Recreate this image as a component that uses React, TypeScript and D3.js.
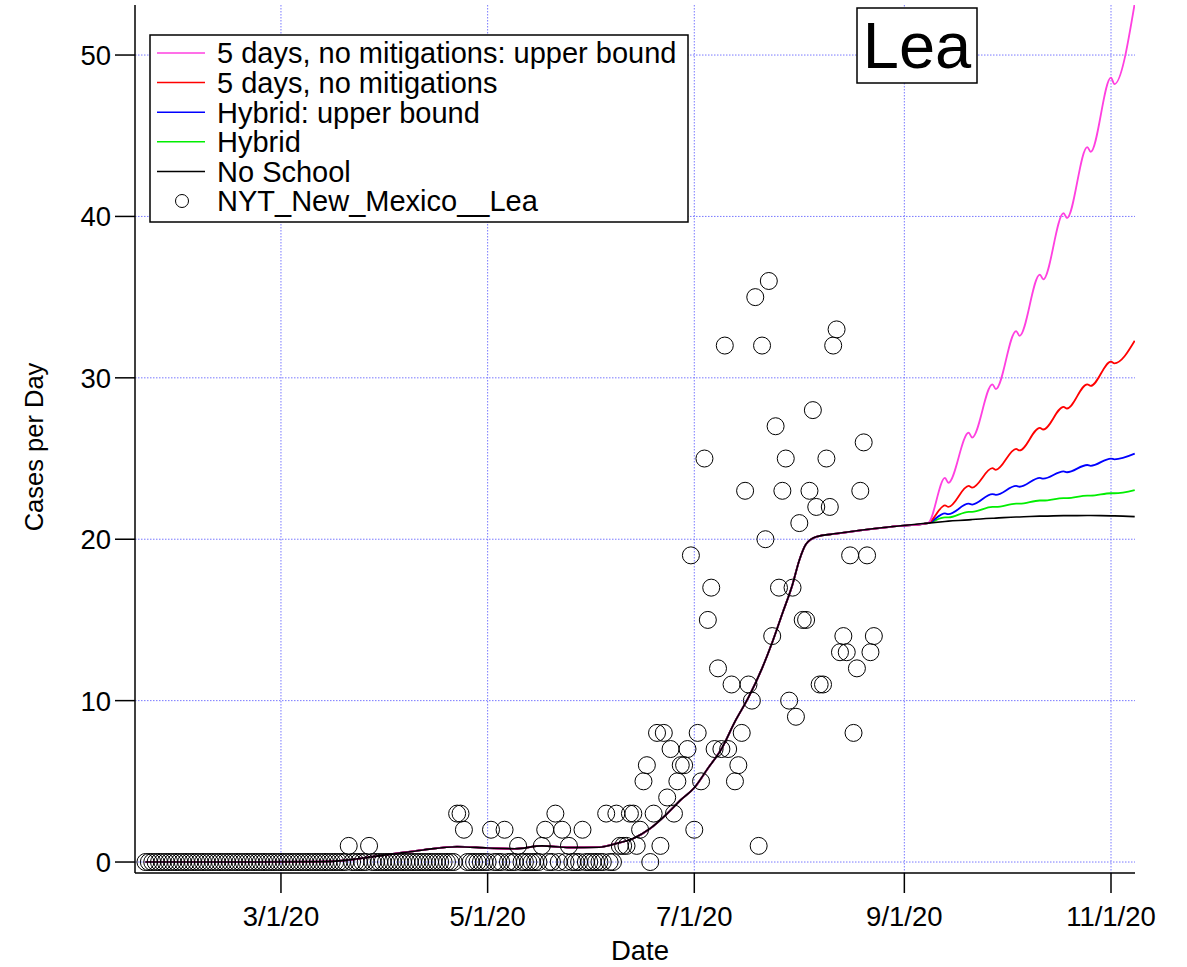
import React, { useEffect, useRef } from 'react';
import * as d3 from 'd3';

// Daily NYT case counts for Lea county, one array per month (first day given in caseMonths)
const caseMonths = ['2020-01-21', '2020-02-01', '2020-03-01', '2020-04-01', '2020-05-01', '2020-06-01', '2020-07-01', '2020-08-01'];
const janCases = [0, 0, 0, 0, 0, 0, 0, 0, 0, 0, 0];
const febCases = [0, 0, 0, 0, 0, 0, 0, 0, 0, 0, 0, 0, 0, 0, 0, 0, 0, 0, 0, 0, 0, 0, 0, 0, 0, 0, 0, 0, 0];
const marCases = [0, 0, 0, 0, 0, 0, 0, 0, 0, 0, 0, 0, 0, 0, 0, 0, 0, 0, 0, 0, 1, 0, 0, 0, 0, 0, 1, 0, 0, 0, 0];
const aprCases = [0, 0, 0, 0, 0, 0, 0, 0, 0, 0, 0, 0, 0, 0, 0, 0, 0, 0, 0, 0, 0, 3, 3, 2, 0, 0, 0, 0, 0, 0];
const mayCases = [0, 2, 0, 0, 0, 2, 0, 0, 0, 1, 0, 0, 0, 0, 0, 0, 1, 2, 0, 0, 3, 0, 2, 0, 1, 0, 0, 0, 2, 0, 0];
const junCases = [0, 0, 0, 0, 3, 0, 0, 3, 1, 1, 1, 3, 3, 1, 2, 5, 6, 0, 3, 8, 1, 8, 4, 7, 3, 5, 6, 6, 7, 19];
const julCases = [2, 8, 5, 25, 15, 17, 7, 12, 7, 32, 7, 11, 5, 6, 8, 23, 11, 10, 35, 1, 32, 20, 36, 14, 27, 17, 23, 25, 10, 17, 9];
const augCases = [21, 15, 15, 23, 28, 22, 11, 11, 25, 22, 32, 33, 13, 14, 13, 19, 8, 12, 23, 26, 19, 13, 14];

// Model fit shared by every scenario up to school start
const baseDates = ['2020-01-21', '2020-02-20', '2020-03-12', '2020-03-20', '2020-03-27', '2020-04-03', '2020-04-12',
  '2020-04-22', '2020-05-01', '2020-05-09', '2020-05-17', '2020-05-25', '2020-06-03', '2020-06-08', '2020-06-13',
  '2020-06-18', '2020-06-23', '2020-06-27', '2020-07-01', '2020-07-05', '2020-07-09', '2020-07-13', '2020-07-17',
  '2020-07-21', '2020-07-24', '2020-07-27', '2020-07-30', '2020-08-01', '2020-08-03', '2020-08-06', '2020-08-12',
  '2020-08-28', '2020-09-08'];
const baseValues = [0, 0, 0.02, 0.1, 0.3, 0.5, 0.75, 0.95, 0.87, 0.82, 1.0, 0.9, 0.92, 1.15, 1.46, 2.08, 3.0, 3.85,
  4.6, 5.8, 7.0, 8.7, 10.2, 12.0, 13.6, 15.4, 17.2, 18.7, 19.7, 20.15, 20.35, 20.77, 21.0];

// Projections after school start
const projDates = ['2020-09-13', '2020-09-14', '2020-09-20', '2020-09-21', '2020-09-27', '2020-09-28', '2020-10-04',
  '2020-10-05', '2020-10-11', '2020-10-12', '2020-10-18', '2020-10-19', '2020-10-25', '2020-10-26', '2020-11-01',
  '2020-11-02', '2020-11-08'];
const fiveDayUpper = [23.8, 23.5, 26.6, 26.3, 29.6, 29.3, 32.9, 32.6, 36.4, 36.1, 40.2, 39.9, 44.3, 44.0, 48.6, 48.2, 53.2];
const fiveDay = [22.1, 22.0, 23.3, 23.2, 24.4, 24.3, 25.6, 25.5, 26.9, 26.8, 28.2, 28.1, 29.6, 29.5, 31.0, 30.9, 32.3];
const hybridUpper = [21.6, 21.55, 22.2, 22.15, 22.8, 22.75, 23.3, 23.25, 23.8, 23.75, 24.2, 24.15, 24.6, 24.55, 25.0, 24.95, 25.3];
const hybrid = [21.35, 21.35, 21.7, 21.7, 22.0, 22.0, 22.2, 22.2, 22.4, 22.4, 22.55, 22.55, 22.7, 22.7, 22.85, 22.85, 23.05];
const noSchool = [21.1, 21.12, 21.2, 21.22, 21.3, 21.31, 21.38, 21.38, 21.43, 21.43, 21.46, 21.46, 21.47, 21.47, 21.45, 21.45, 21.4];

const seriesNames = ['5 days, no mitigations: upper bound', '5 days, no mitigations', 'Hybrid: upper bound', 'Hybrid', 'No School'];
const seriesColors = ['#ff40e0', '#ff0000', '#0000ff', '#00ee00', '#000000'];
const dataName = 'NYT_New_Mexico__Lea';

const xTickDates = ['2020-03-01', '2020-05-01', '2020-07-01', '2020-09-01', '2020-11-01'];
const xTickLabels = ['3/1/20', '5/1/20', '7/1/20', '9/1/20', '11/1/20'];
const yTicks = [0, 10, 20, 30, 40, 50];

interface Pt { date: Date; value: number; }

const App: React.FC = () => {
  const svgRef = useRef<SVGSVGElement | null>(null);

  useEffect(() => {
    if (!svgRef.current) return;
    const svg = d3.select(svgRef.current);
    svg.selectAll('*').remove();

    const parse = d3.timeParse('%Y-%m-%d');
    const font = '"Liberation Sans", Arial, Helvetica, sans-serif';
    const left = 135, right = 1135, top = 5, bottom = 873;

    const x = d3.scaleTime()
      .domain([new Date(2020, 0, 17, 22), new Date(2020, 10, 8, 2)])
      .range([left, right]);
    const y = d3.scaleLinear().domain([-0.68, 53.1]).range([bottom, top]);

    svg.append('defs').append('clipPath').attr('id', 'plot-clip')
      .append('rect').attr('x', left).attr('y', top).attr('width', right - left).attr('height', bottom - top);

    // grid
    const grid = svg.append('g').attr('stroke', '#7878ff').attr('stroke-width', 1).attr('stroke-dasharray', '1.5,1.5');
    yTicks.forEach(v => {
      grid.append('line').attr('x1', left).attr('x2', right).attr('y1', y(v)).attr('y2', y(v));
    });
    xTickDates.forEach(d => {
      const px = x(parse(d)!);
      grid.append('line').attr('x1', px).attr('x2', px).attr('y1', top).attr('y2', bottom);
    });

    // model lines (drawn green, blue, red, magenta, then black on top)
    const base: Pt[] = baseDates.map((d, i) => ({ date: parse(d)!, value: baseValues[i] }));
    const projections = [fiveDayUpper, fiveDay, hybridUpper, hybrid, noSchool];
    const line = d3.line<Pt>().x(d => x(d.date)).y(d => y(d.value)).curve(d3.curveMonotoneX);
    const lines = svg.append('g').attr('clip-path', 'url(#plot-clip)');
    [3, 2, 1, 0, 4].forEach(i => {
      const pts = base.concat(projDates.map((d, j) => ({ date: parse(d)!, value: projections[i][j] })));
      lines.append('path').datum(pts).attr('d', line)
        .attr('fill', 'none').attr('stroke', seriesColors[i])
        .attr('stroke-width', i === 4 ? 1.6 : 1.8).attr('stroke-linejoin', 'round');
    });

    // observed cases
    const monthArrays = [janCases, febCases, marCases, aprCases, mayCases, junCases, julCases, augCases];
    const cases: Pt[] = [];
    monthArrays.forEach((arr, m) => {
      const start = parse(caseMonths[m])!;
      arr.forEach((v, i) => cases.push({ date: d3.timeDay.offset(start, i), value: v }));
    });
    svg.append('g').selectAll('circle').data(cases).join('circle')
      .attr('cx', d => x(d.date)).attr('cy', d => y(d.value)).attr('r', 8.5)
      .attr('fill', 'none').attr('stroke', '#000').attr('stroke-width', 1);

    // axes
    const ax = svg.append('g').attr('stroke', '#000').attr('stroke-width', 1.5);
    ax.append('line').attr('x1', left).attr('x2', left).attr('y1', top).attr('y2', bottom);
    ax.append('line').attr('x1', left).attr('x2', right).attr('y1', bottom).attr('y2', bottom);
    yTicks.forEach(v => {
      ax.append('line').attr('x1', left - 20).attr('x2', left).attr('y1', y(v)).attr('y2', y(v));
      svg.append('text').attr('x', 111).attr('y', y(v)).attr('dy', '0.36em')
        .attr('text-anchor', 'end').attr('font-family', font).attr('font-size', 27.5).text(String(v));
    });
    xTickDates.forEach((d, i) => {
      const px = x(parse(d)!);
      ax.append('line').attr('x1', px).attr('x2', px).attr('y1', bottom).attr('y2', bottom + 20);
      svg.append('text').attr('x', px).attr('y', 926)
        .attr('text-anchor', 'middle').attr('font-family', font).attr('font-size', 27.5).text(xTickLabels[i]);
    });
    svg.append('text').attr('x', 640).attr('y', 960).attr('text-anchor', 'middle')
      .attr('font-family', font).attr('font-size', 27.5).text('Date');
    svg.append('text').attr('transform', 'translate(43,447) rotate(-90)').attr('text-anchor', 'middle')
      .attr('font-family', font).attr('font-size', 25.5).text('Cases per Day');

    // legend
    const lg = svg.append('g');
    lg.append('rect').attr('x', 150).attr('y', 35).attr('width', 538).attr('height', 187)
      .attr('fill', '#fff').attr('stroke', '#000').attr('stroke-width', 1.5);
    const rowY = (i: number) => 53 + i * 29.6;
    seriesNames.forEach((name, i) => {
      lg.append('line').attr('x1', 157).attr('x2', 205).attr('y1', rowY(i)).attr('y2', rowY(i))
        .attr('stroke', seriesColors[i]).attr('stroke-width', 1.5);
      lg.append('text').attr('x', 217).attr('y', rowY(i)).attr('dy', '0.36em')
        .attr('font-family', font).attr('font-size', 29).text(name);
    });
    lg.append('circle').attr('cx', 182).attr('cy', rowY(5)).attr('r', 6.5)
      .attr('fill', 'none').attr('stroke', '#000').attr('stroke-width', 1);
    lg.append('text').attr('x', 217).attr('y', rowY(5)).attr('dy', '0.36em')
      .attr('font-family', font).attr('font-size', 29).text(dataName);

    // title box
    svg.append('rect').attr('x', 857).attr('y', 8).attr('width', 120).attr('height', 75)
      .attr('fill', '#fff').attr('stroke', '#000').attr('stroke-width', 1.5);
    svg.append('text').attr('x', 917).attr('y', 68).attr('text-anchor', 'middle')
      .attr('font-family', font).attr('font-size', 65).text('Lea');
  }, []);

  return (
    <svg ref={svgRef} width={1187} height={967}
      style={{ position: 'absolute', left: 0, top: 0, background: '#fff' }} />
  );
};

export default App;
